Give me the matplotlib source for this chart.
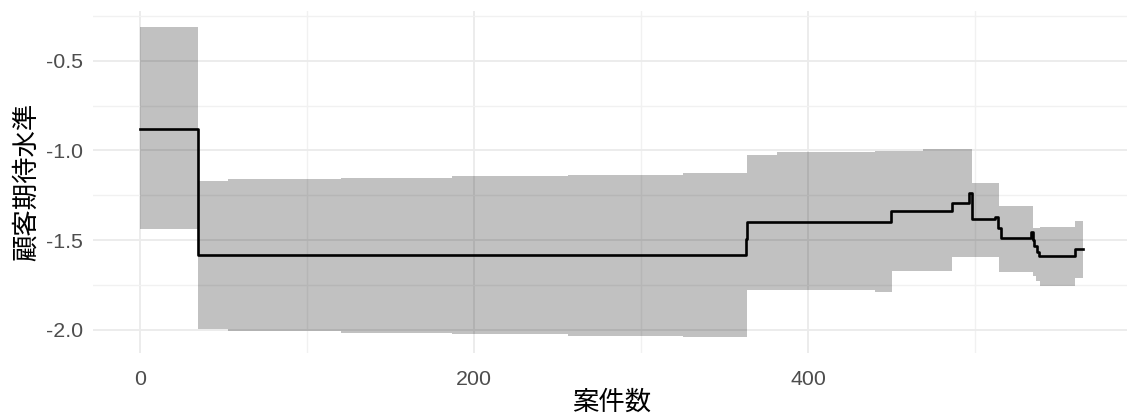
import numpy as np
import matplotlib
matplotlib.use("Agg")
import matplotlib.pyplot as plt
from matplotlib.ticker import MultipleLocator

plt.rcParams['font.family'] = ['Liberation Sans', 'Noto Sans CJK JP', 'DejaVu Sans']
plt.rcParams['axes.unicode_minus'] = False

# Running estimate: step start positions and level from each start
est_x = [0, 34.5, 362.5, 363.5, 449.5, 486.0, 496.6, 498.4, 512.0, 513.5,
         515.5, 533.4, 534.7, 535.5, 536.9, 538.1, 559.9]
est_y = [-0.879, -1.582, -1.493, -1.400, -1.335, -1.294, -1.235, -1.383, -1.37, -1.43,
         -1.489, -1.452, -1.498, -1.532, -1.564, -1.588, -1.549]

# Confidence band: step start positions with lower and upper bounds
band_x = [0, 34.5, 52.7, 120.4, 186.8, 256.3, 325.1, 363.3, 381.3, 440.0,
          450.0, 468.9, 486.0, 498.4, 514.0, 534.5, 536.5, 538.9, 559.9]
band_lo = [-1.437, -1.997, -2.008, -2.017, -2.023, -2.034, -2.042, -1.777, -1.778, -1.790,
           -1.671, -1.673, -1.595, -1.595, -1.675, -1.700, -1.730, -1.753, -1.713]
band_hi = [-0.310, -1.171, -1.161, -1.155, -1.145, -1.136, -1.125, -1.024, -1.011, -1.002,
           -1.002, -0.991, -0.991, -1.179, -1.309, -1.431, -1.431, -1.426, -1.392]
x_end = 564.5

x_ticks = [0, 200, 400]
y_ticks = [-2.0, -1.5, -1.0, -0.5]
x_title = "案件数"
y_title = "顧客期待水準"

W, H = 1127, 419
fig = plt.figure(figsize=(W / 100, H / 100), dpi=100)
left, right, top, bottom = 93, 1130, 11, 353
ax = fig.add_axes([left / W, (H - bottom) / H, (right - left) / W, (bottom - top) / H])

bx = np.append(band_x, x_end)
blo = np.append(band_lo, band_lo[-1])
bhi = np.append(band_hi, band_hi[-1])
ax.fill_between(bx, blo, bhi, step='post', facecolor='black', alpha=0.245,
                linewidth=0, zorder=2)

ex = np.append(est_x, x_end)
ey = np.append(est_y, est_y[-1])
ax.step(ex, ey, where='post', color='black', linewidth=1.9, zorder=3)

ax.margins(x=0.05, y=0.05)
ax.set_xticks(x_ticks)
ax.set_yticks(y_ticks)
ax.set_yticklabels([f"{v:.1f}" for v in y_ticks])
ax.xaxis.set_minor_locator(MultipleLocator(100))
ax.yaxis.set_minor_locator(MultipleLocator(0.25))

ax.grid(True, which='major', color='#EBEBEB', linewidth=1.3, zorder=0)
ax.grid(True, which='minor', color='#F1F1F1', linewidth=1.0, zorder=0)
ax.set_axisbelow(True)
for s in ax.spines.values():
    s.set_visible(False)
ax.tick_params(which='both', length=0)
ax.tick_params(axis='y', labelsize=15.4, labelcolor='#4D4D4D', pad=7)
ax.tick_params(axis='x', labelsize=15.4, labelcolor='#4D4D4D', pad=12)

cjk = ['Noto Sans CJK JP', 'DejaVu Sans']
ax.set_xlabel(x_title, fontsize=19, family=cjk, color='black', va='center')
ax.set_ylabel(y_title, fontsize=19, family=cjk, color='black', va='center')
ax.xaxis.set_label_coords(0.5, (bottom - 402) / (bottom - top))
ax.yaxis.set_label_coords((26 - left) / (right - left), 0.5)

fig.savefig("out.png", dpi=100)
